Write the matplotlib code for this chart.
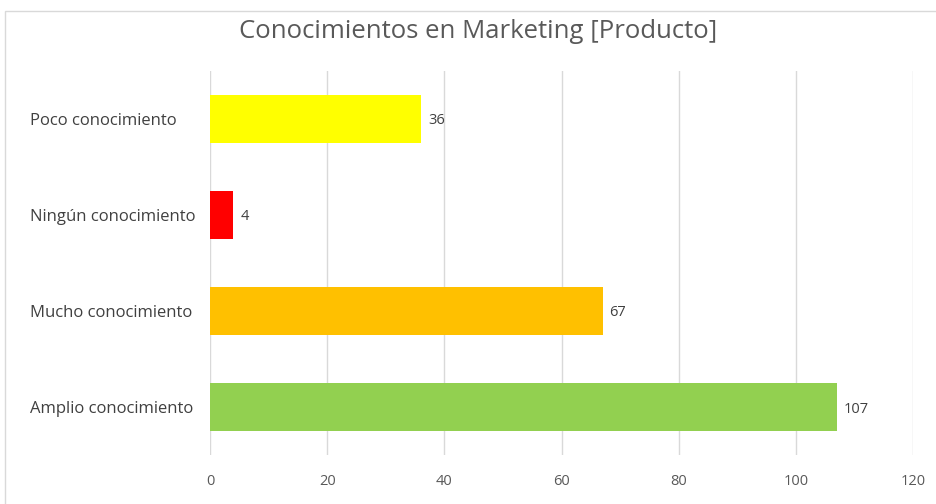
import matplotlib
matplotlib.use("Agg")
import matplotlib.pyplot as plt
from matplotlib.patches import Rectangle

# data (bottom to top, as drawn)
categories = ["Amplio conocimiento", "Mucho conocimiento", "Ningún conocimiento", "Poco conocimiento"]
values = [107, 67, 4, 36]
colors = ["#92D050", "#FFC000", "#FF0000", "#FFFF00"]
xticks = [0, 20, 40, 60, 80, 100, 120]

plt.rcParams['font.family'] = ['Open Sans', 'DejaVu Sans']

fig = plt.figure(figsize=(9.36, 5.04), dpi=100)
ax = fig.add_axes([0.2244, 0.0972, 0.751, 0.762])

# chart frame
fig.patches.append(Rectangle((5 / 936, -0.1), 1.1, 1 - 11 / 504 + 0.1, transform=fig.transFigure,
                             fill=False, edgecolor="#d9d9d9", linewidth=1))

ypos = range(len(categories))
ax.barh(ypos, values, height=0.5, color=colors, zorder=3)
for y, v in zip(ypos, values):
    ax.text(v + 1.2, y, str(v), va="center_baseline", ha="left", fontsize=10.5, color="#404040")

ax.set_xlim(0, 120)
ax.set_ylim(-0.5, 3.5)
ax.set_xticks(xticks)
ax.set_yticks(list(ypos))
ax.set_yticklabels(categories, fontsize=12, color="#404040", ha="left")
ax.tick_params(axis="x", length=0, labelsize=10.5, labelcolor="#595959", pad=14)
# labels start at x ~ 30 px, axis at 210 px -> 180 px pad
ax.tick_params(axis="y", length=0, pad=180 * 72 / 100)
ax.grid(axis="x", color="#d9d9d9", linewidth=1, zorder=0)
for s in ax.spines.values():
    s.set_visible(False)

fig.text(0.511, 1 - 32 / 504, "Conocimientos en Marketing [Producto]", ha="center", va="center",
         fontsize=18.5, color="#595959")

fig.savefig("out.png", dpi=100)
